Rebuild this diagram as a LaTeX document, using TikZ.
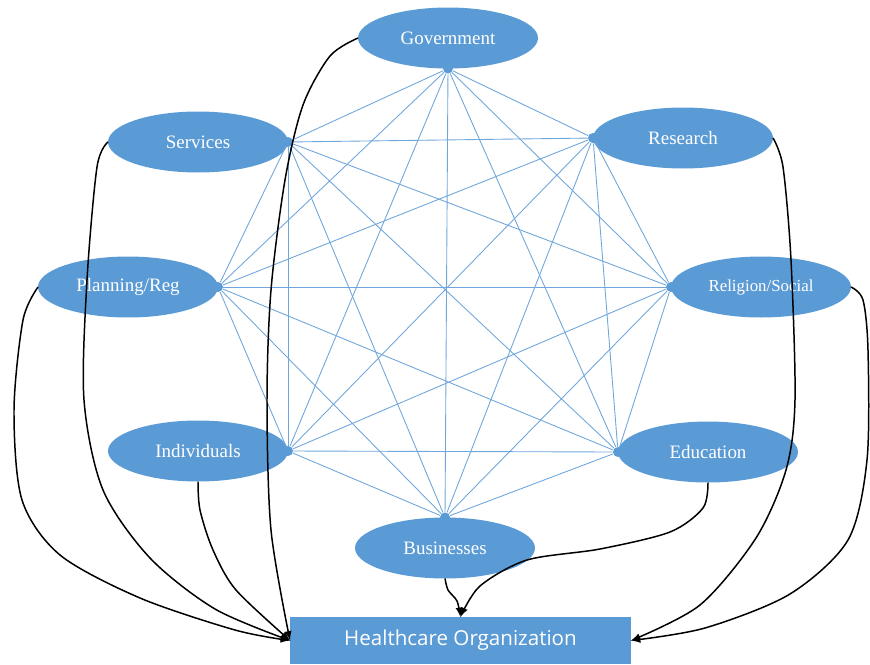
\documentclass[tikz,border=0pt]{standalone}
\usepackage{fontspec}
\setmainfont{Liberation Serif}
\newfontfamily\orgfont{Open Sans}
\usepackage{tikz}
\usetikzlibrary{shapes.geometric}
\usepackage{xcolor}
\definecolor{NodeBlue}{HTML}{5B9BD5}
\definecolor{LinkBlue}{HTML}{6FA6DB}
\newcommand\nodegov{Government}
\newcommand\nodesvc{Services}
\newcommand\noderes{Research}
\newcommand\nodeplan{Planning/Reg}
\newcommand\noderel{Religion/Social}
\newcommand\nodeind{Individuals}
\newcommand\nodeedu{Education}
\newcommand\nodebus{Businesses}
\newcommand\nodehc{Healthcare Organization}
\tikzstyle{actor} = [ellipse, minimum width=3.6cm, minimum height=1.22cm, outer sep=0pt, fill=NodeBlue, text=white, font=\fontsize{10.8}{13}\selectfont]
\tikzstyle{orgbox} = [rectangle, minimum width=6.82cm, minimum height=0.94cm, outer sep=0pt, fill=NodeBlue, text=white, font=\orgfont\fontsize{11.7}{14}\selectfont]
\tikzstyle{hub} = [circle, minimum size=0.2cm, inner sep=0pt, fill=NodeBlue]
\tikzstyle{link} = [draw=LinkBlue, line width=0.5pt]
\tikzstyle{flow} = [->, black, line width=0.85pt]
\tikzset{>=latex}

\begin{document}
\begin{tikzpicture}[x=0.02cm, y=-0.02cm]
\useasboundingbox (0,0) rectangle (870,664);
\node[actor] (gov) at (448, 38) {\nodegov};
\node[actor] (svc) at (198, 142) {\nodesvc};
\node[actor] (res) at (683, 138) {\noderes};
\node[actor] (plan) at (128, 287) {\nodeplan};
\node[actor, font=\fontsize{9.6}{12}\selectfont] (rel) at (761, 287) {\noderel};
\node[actor] (ind) at (198, 451) {\nodeind};
\node[actor] (edu) at (708, 452) {\nodeedu};
\node[actor] (bus) at (445, 548) {\nodebus};
\node[orgbox] (hc) at (460.5, 640.5) {\nodehc};
\node[hub] (govhub) at (gov.south) {};
\node[hub] (svchub) at (svc.east) {};
\node[hub] (reshub) at (res.west) {};
\node[hub] (planhub) at (plan.east) {};
\node[hub] (relhub) at (rel.west) {};
\node[hub] (indhub) at (ind.east) {};
\node[hub] (eduhub) at (edu.west) {};
\node[hub] (bushub) at (bus.north) {};
% every actor linked with every other
\draw[link] (govhub) -- (svchub);
\draw[link] (govhub) -- (reshub);
\draw[link] (govhub) -- (planhub);
\draw[link] (govhub) -- (relhub);
\draw[link] (govhub) -- (indhub);
\draw[link] (govhub) -- (eduhub);
\draw[link] (govhub) -- (bushub);
\draw[link] (svchub) -- (reshub);
\draw[link] (svchub) -- (planhub);
\draw[link] (svchub) -- (relhub);
\draw[link] (svchub) -- (indhub);
\draw[link] (svchub) -- (eduhub);
\draw[link] (svchub) -- (bushub);
\draw[link] (reshub) -- (planhub);
\draw[link] (reshub) -- (relhub);
\draw[link] (reshub) -- (indhub);
\draw[link] (reshub) -- (eduhub);
\draw[link] (reshub) -- (bushub);
\draw[link] (planhub) -- (relhub);
\draw[link] (planhub) -- (indhub);
\draw[link] (planhub) -- (eduhub);
\draw[link] (planhub) -- (bushub);
\draw[link] (relhub) -- (indhub);
\draw[link] (relhub) -- (eduhub);
\draw[link] (relhub) -- (bushub);
\draw[link] (indhub) -- (eduhub);
\draw[link] (indhub) -- (bushub);
\draw[link] (eduhub) -- (bushub);
% arrows into the organization
\draw[flow] plot[smooth] coordinates {(gov.west) (330,56) (303,105) (285,180) (271,290) (267,400) (271,530) (hc.west)};
\draw[flow] plot[smooth] coordinates {(svc.west) (97,167) (87,280) (84,400) (103,490) (150,558) (215,609) (hc.west)};
\draw[flow] plot[smooth] coordinates {(plan.west) (23,320) (14,410) (22,500) (60,555) (140,598) (235,630) (hc.west)};
\draw[flow] plot[smooth] coordinates {(ind.south) (200,510) (213,550) (236,590) (hc.west)};
\draw[flow] plot[smooth] coordinates {(res.east) (783,167) (791,260) (795,400) (786,470) (756,538) (700,605) (hc.east)};
\draw[flow] plot[smooth] coordinates {(rel.east) (863,300) (868,350) (867,460) (848,540) (790,594) (705,628) (hc.east)};
\draw[flow] plot[smooth] coordinates {(edu.south) (703,508) (670,532) (600,549) (527,560) (480,586) (hc.north)};
\draw[flow] plot[smooth] coordinates {(bus.south) (448,590) (457,601) (hc.north)};
\end{tikzpicture}
\end{document}
